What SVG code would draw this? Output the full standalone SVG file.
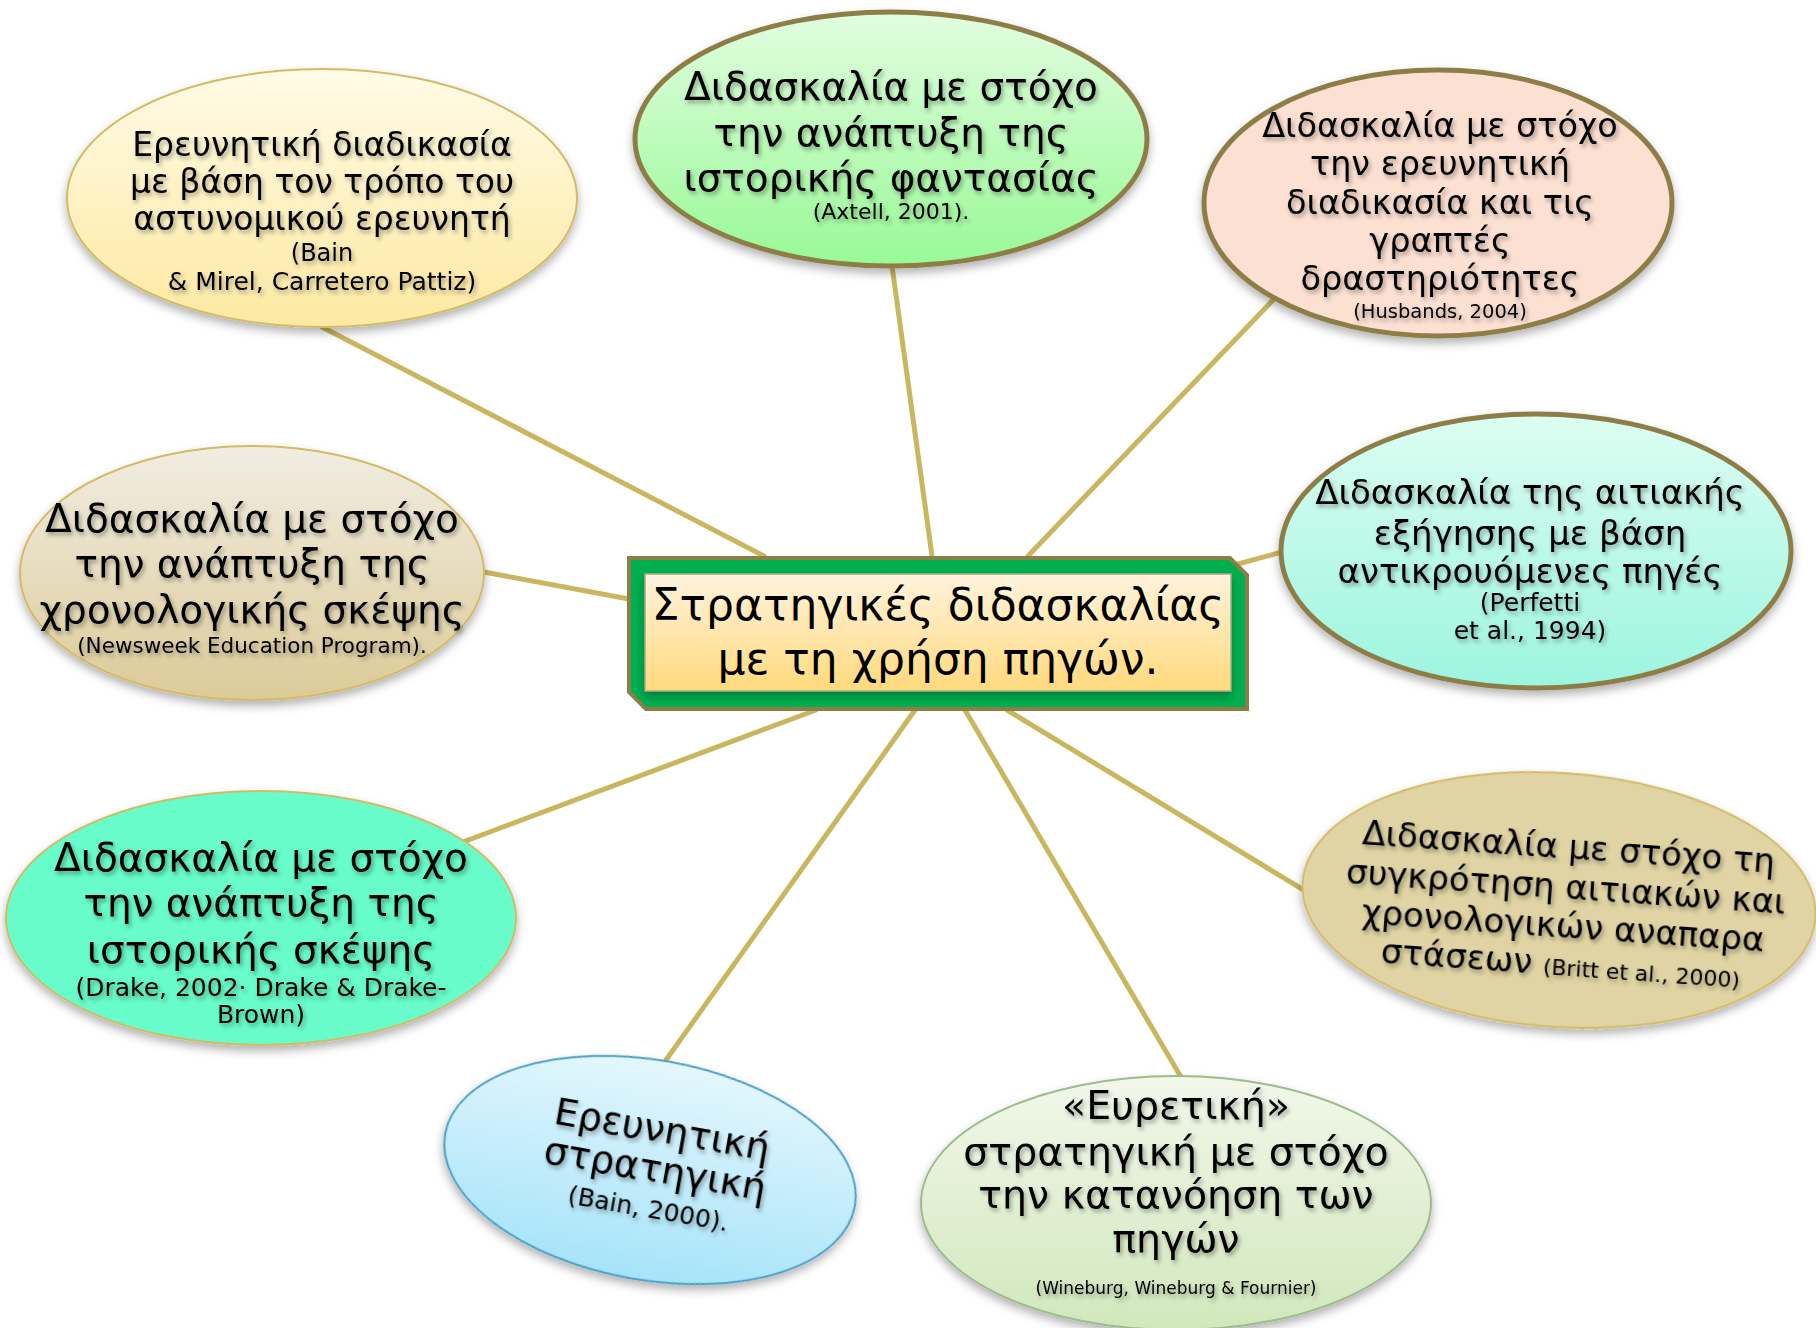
<svg xmlns="http://www.w3.org/2000/svg" width="1816" height="1328" viewBox="0 0 1816 1328">
<defs>
<linearGradient id="gYellow" x1="0" y1="0" x2="0" y2="1"><stop offset="0" stop-color="#fffbe6"/><stop offset="1" stop-color="#fde9a2"/></linearGradient>
<linearGradient id="gGreen" x1="0" y1="0" x2="0" y2="1"><stop offset="0" stop-color="#e2fde0"/><stop offset="1" stop-color="#98f996"/></linearGradient>
<linearGradient id="gTan" x1="0" y1="0" x2="0" y2="1"><stop offset="0" stop-color="#f1ede2"/><stop offset="1" stop-color="#dccb98"/></linearGradient>
<linearGradient id="gCyan" x1="0" y1="0" x2="0" y2="1"><stop offset="0" stop-color="#ddfdf2"/><stop offset="1" stop-color="#9cf5df"/></linearGradient>
<linearGradient id="gBlue" x1="0" y1="0" x2="0" y2="1"><stop offset="0" stop-color="#e4f7fd"/><stop offset="1" stop-color="#a6e3f9"/></linearGradient>
<linearGradient id="gLime" x1="0" y1="0" x2="0" y2="1"><stop offset="0" stop-color="#f2f7ea"/><stop offset="1" stop-color="#d0e8bc"/></linearGradient>
<linearGradient id="gCenter" x1="0" y1="0" x2="0" y2="1"><stop offset="0" stop-color="#fff3dd"/><stop offset="1" stop-color="#ffd97c"/></linearGradient>
<filter id="shadow" x="-10%" y="-10%" width="120%" height="130%"><feDropShadow dx="0" dy="5" stdDeviation="5" flood-color="#000" flood-opacity="0.3"/></filter>
<filter id="tshadow" x="-5%" y="-20%" width="110%" height="150%"><feDropShadow dx="2" dy="3" stdDeviation="2" flood-color="#000" flood-opacity="0.35"/></filter>
</defs>
<style>
.conn{stroke:#c9b65e;stroke-width:5;fill:none;stroke-linecap:round}
.thick{stroke:#8d7e47;stroke-width:5}
.thin{stroke:#d3bb66;stroke-width:2}
text{font-family:"DejaVu Sans","Noto Sans",sans-serif;fill:#000;text-anchor:middle}
.lbl{filter:url(#tshadow)}
</style>
<rect width="1816" height="1328" fill="#ffffff"/>
<g id="connectors">
<line class="conn" x1="322" y1="327" x2="764" y2="556"/>
<line class="conn" x1="892" y1="266" x2="932" y2="556"/>
<line class="conn" x1="1274" y1="299" x2="1028" y2="556"/>
<line class="conn" x1="1227" y1="567" x2="1282" y2="552"/>
<line class="conn" x1="629" y1="599" x2="484" y2="572"/>
<line class="conn" x1="816" y1="710" x2="463" y2="842"/>
<line class="conn" x1="915" y1="710" x2="666" y2="1060"/>
<line class="conn" x1="965" y1="710" x2="1181" y2="1077"/>
<line class="conn" x1="1007" y1="710" x2="1302" y2="889"/>
</g>
<g id="node-police">
<ellipse cx="322" cy="198" rx="255" ry="129" fill="url(#gYellow)" class="thin" filter="url(#shadow)"/>
<g class="lbl">
<text x="322" y="156" font-size="33">Ερευνητική διαδικασία</text>
<text x="322" y="193" font-size="33">με βάση τον τρόπο του</text>
<text x="322" y="230" font-size="33">αστυνομικού ερευνητή</text>
<text x="322" y="261" font-size="24">(Bain</text>
<text x="322" y="290" font-size="25">&amp; Mirel, Carretero Pattiz)</text>
</g>
</g>
<g id="node-imagination">
<ellipse cx="891" cy="139" rx="256" ry="127" fill="url(#gGreen)" class="thick" filter="url(#shadow)"/>
<g class="lbl">
<text x="891" y="100" font-size="39">Διδασκαλία με στόχο</text>
<text x="891" y="146" font-size="39">την ανάπτυξη της</text>
<text x="891" y="191" font-size="39">ιστορικής φαντασίας</text>
<text x="891" y="219" font-size="22">(Axtell, 2001).</text>
</g>
</g>
<g id="node-research">
<ellipse cx="1438" cy="203" rx="234" ry="133" fill="#fce0d1" class="thick" filter="url(#shadow)"/>
<g class="lbl">
<text x="1440" y="137" font-size="33.5">Διδασκαλία με στόχο</text>
<text x="1440" y="175" font-size="33.5">την ερευνητική</text>
<text x="1440" y="214" font-size="33.5">διαδικασία και τις</text>
<text x="1440" y="252" font-size="33.5">γραπτές</text>
<text x="1440" y="290" font-size="33.5">δραστηριότητες</text>
<text x="1440" y="318" font-size="19.5">(Husbands, 2004)</text>
</g>
</g>
<g id="node-chrono">
<ellipse cx="252" cy="573" rx="232" ry="127" fill="url(#gTan)" class="thin" filter="url(#shadow)"/>
<g class="lbl">
<text x="252" y="532" font-size="39">Διδασκαλία με στόχο</text>
<text x="252" y="577" font-size="39">την ανάπτυξη της</text>
<text x="252" y="623" font-size="39">χρονολογικής σκέψης</text>
<text x="252" y="653" font-size="21.5">(Newsweek Education Program).</text>
</g>
</g>
<g id="node-center">
<polygon points="629,558 1230,558 1247,575 1247,709 646,709 629,692" fill="#00b050" stroke="#8d7e47" stroke-width="4"/>
<rect x="645" y="574" width="586" height="117" fill="url(#gCenter)" stroke="#a9a98a" stroke-width="1.5" filter="url(#shadow)"/>
<text x="938" y="620" font-size="44">Στρατηγικές διδασκαλίας</text>
<text x="938" y="674" font-size="44">με τη χρήση πηγών.</text>
</g>
<g id="node-causal">
<ellipse cx="1536" cy="551" rx="255" ry="137" fill="url(#gCyan)" class="thick" filter="url(#shadow)"/>
<g class="lbl">
<text x="1530" y="504" font-size="34">Διδασκαλία της αιτιακής</text>
<text x="1530" y="545" font-size="34">εξήγησης με βάση</text>
<text x="1530" y="583" font-size="34">αντικρουόμενες πηγές</text>
<text x="1530" y="611" font-size="25">(Perfetti</text>
<text x="1530" y="639" font-size="25">et al., 1994)</text>
</g>
</g>
<g id="node-historical">
<ellipse cx="261" cy="918" rx="255" ry="127" fill="#68fccb" class="thin" filter="url(#shadow)"/>
<g class="lbl">
<text x="261" y="871" font-size="39">Διδασκαλία με στόχο</text>
<text x="261" y="916" font-size="39">την ανάπτυξη της</text>
<text x="261" y="963" font-size="39">ιστορικής σκέψης</text>
<text x="261" y="996" font-size="25">(Drake, 2002· Drake &amp; Drake-</text>
<text x="261" y="1023" font-size="25">Brown)</text>
</g>
</g>
<g id="node-representations" transform="rotate(4 1559 900)">
<ellipse cx="1559" cy="900" rx="257" ry="127" fill="#e0d4a4" class="thin" filter="url(#shadow)"/>
<g class="lbl">
<text x="1565" y="858" font-size="34">Διδασκαλία με στόχο τη</text>
<text x="1565" y="898" font-size="34">συγκρότηση αιτιακών και</text>
<text x="1565" y="937" font-size="34">χρονολογικών αναπαρα</text>
<text x="1565" y="975" font-size="34">στάσεων <tspan font-size="22">(Britt et al., 2000)</tspan></text>
</g>
</g>
<g id="node-strategy" transform="rotate(10 650 1170)">
<ellipse cx="650" cy="1170" rx="208" ry="110" fill="url(#gBlue)" stroke="#4a9fc6" stroke-width="2" filter="url(#shadow)"/>
<g class="lbl">
<text x="655" y="1141" font-size="38">Ερευνητική</text>
<text x="655" y="1181" font-size="38">στρατηγική</text>
<text x="655" y="1217" font-size="25">(Bain, 2000).</text>
</g>
</g>
<g id="node-heuristic">
<ellipse cx="1176" cy="1203" rx="255" ry="127" fill="url(#gLime)" stroke="#9dbb8c" stroke-width="2" filter="url(#shadow)"/>
<g class="lbl">
<text x="1176" y="1119" font-size="39.5">«Ευρετική»</text>
<text x="1176" y="1165" font-size="39.5">στρατηγική με στόχο</text>
<text x="1176" y="1208" font-size="39.5">την κατανόηση των</text>
<text x="1176" y="1252" font-size="39.5">πηγών</text>
<text x="1176" y="1294" font-size="17">(Wineburg, Wineburg &amp; Fournier)</text>
</g>
</g>
</svg>
